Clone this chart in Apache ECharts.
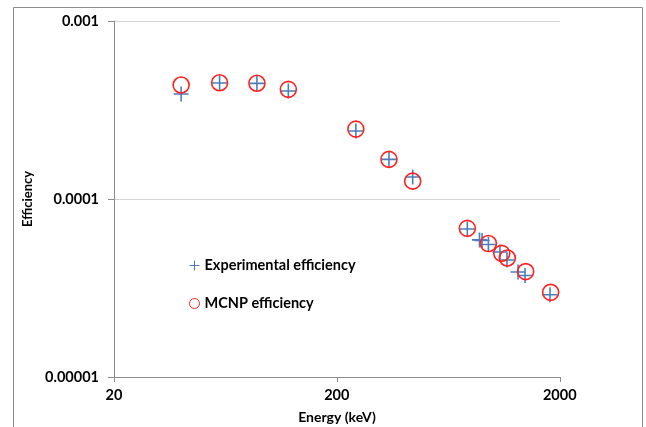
<!DOCTYPE html>
<html>
<head>
<meta charset="utf-8">
<script src="https://cdn.jsdelivr.net/npm/echarts@6/dist/echarts.min.js"></script>
<style>
html,body{margin:0;padding:0;background:#fff;}
#chart{width:646px;height:427px;}
</style>
</head>
<body>
<div id="chart"></div>
<script>
// Experimental efficiency (energy keV, efficiency)
var expEnergy = [40, 59.5, 87.5, 121, 243, 342, 437, 768, 871, 894, 955, 1076, 1157, 1297, 1394, 1804];
var expEff    = [3.89e-4, 4.48e-4, 4.46e-4, 4.04e-4, 2.41e-4, 1.67e-4, 1.33e-4, 6.78e-5, 5.89e-5, 5.85e-5, 5.55e-5, 5.04e-5, 4.54e-5, 3.89e-5, 3.72e-5, 2.90e-5];
// MCNP efficiency
var mcnpEnergy = [40, 59.5, 87.5, 121, 243, 342, 437, 768, 955, 1096, 1161, 1403, 1816];
var mcnpEff    = [4.37e-4, 4.50e-4, 4.47e-4, 4.13e-4, 2.47e-4, 1.67e-4, 1.26e-4, 6.84e-5, 5.62e-5, 4.95e-5, 4.66e-5, 3.91e-5, 2.99e-5];
var xTicks = ['20', '200', '2000'];
var yTicks = ['0.00001', '0.0001', '0.001'];
var seriesNames = ['Experimental efficiency', 'MCNP efficiency'];

function pairs(xs, ys) { return xs.map(function (x, i) { return [x, ys[i]]; }); }

var FONT = 'Lato';
var chart = echarts.init(document.getElementById('chart'), null, {renderer: 'canvas'});
var plusPath = 'path://M0,6L12,6M6,0L6,12';

chart.setOption({
  animation: false,
  backgroundColor: '#ffffff',
  graphic: [{
    type: 'rect', silent: true,
    shape: {x: 13.5, y: 7.5, width: 629, height: 440},
    style: {fill: 'none', stroke: '#8c8c8c', lineWidth: 1}
  }],
  grid: {left: 114, top: 21, right: 86, bottom: 50, containLabel: false, outerBoundsMode: 'none'},
  legend: {
    orient: 'vertical', left: 184, top: 253, itemGap: 23,
    itemWidth: 10, itemHeight: 10,
    textStyle: {fontFamily: FONT, fontWeight: 'bold', fontSize: 14.5, color: '#000'},
    data: [
      {name: seriesNames[0], icon: plusPath, itemStyle: {borderWidth: 1}},
      {name: seriesNames[1], icon: 'circle', itemStyle: {borderWidth: 1}}
    ]
  },
  xAxis: {
    type: 'log', logBase: 10, min: 20, max: 2000, interval: 1,
    name: 'Energy (keV)', nameLocation: 'middle', nameGap: 33,
    nameTextStyle: {fontFamily: FONT, fontWeight: 'bold', fontSize: 14, color: '#000'},
    axisLine: {lineStyle: {color: '#8c8c8c', width: 1}},
    axisTick: {show: true, length: 5, lineStyle: {color: '#8c8c8c'}},
    minorTick: {show: false},
    splitLine: {show: false},
    axisLabel: {
      fontFamily: FONT, fontWeight: 'bold', fontSize: 14.5, color: '#000', margin: 11,
      formatter: function (v) {
        var l = Math.round(Math.log10(v / 20));
        return xTicks[l] !== undefined ? xTicks[l] : '';
      }
    }
  },
  yAxis: {
    type: 'log', logBase: 10, min: 1e-5, max: 1e-3,
    name: 'Efficiency', nameLocation: 'middle', nameGap: 80, nameRotate: 90,
    nameTextStyle: {fontFamily: FONT, fontWeight: 'bold', fontSize: 13, color: '#000'},
    axisLine: {show: true, lineStyle: {color: '#8c8c8c', width: 1}},
    axisTick: {show: true, length: 6, lineStyle: {color: '#8c8c8c'}},
    minorTick: {show: false},
    splitLine: {show: true, lineStyle: {color: '#d4d4d4', width: 1}},
    axisLabel: {
      fontFamily: FONT, fontWeight: 'bold', fontSize: 14.5, color: '#000', margin: 15,
      formatter: function (v) {
        var l = Math.round(Math.log10(v) + 5);
        return yTicks[l] !== undefined ? yTicks[l] : '';
      }
    }
  },
  series: [
    {
      name: seriesNames[0], type: 'scatter', symbol: plusPath, symbolSize: 15,
      itemStyle: {color: 'rgba(0,0,0,0)', borderColor: '#4a7ebb', borderWidth: 1.6, opacity: 1},
      data: pairs(expEnergy, expEff), z: 2
    },
    {
      name: seriesNames[1], type: 'scatter', symbol: 'circle', symbolSize: 16,
      itemStyle: {color: 'rgba(0,0,0,0)', borderColor: '#ff2020', borderWidth: 1.6, opacity: 1},
      data: pairs(mcnpEnergy, mcnpEff), z: 3
    }
  ]
});
</script>
</body>
</html>
